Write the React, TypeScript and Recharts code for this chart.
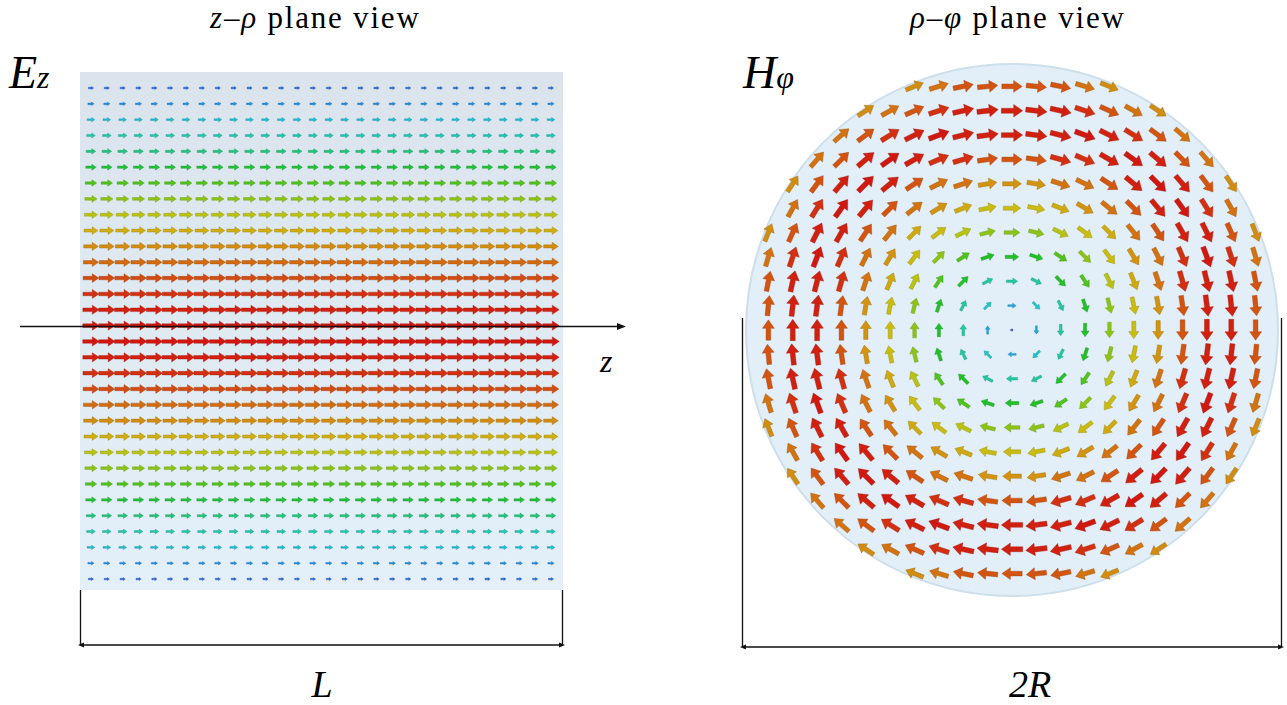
import React from 'react';
import { ScatterChart, Scatter, XAxis, YAxis } from 'recharts';

// ---------- data: z–ρ plane (E_z) ----------
const zColumns = [0, 1, 2, 3, 4, 5, 6, 7, 8, 9, 10, 11, 12, 13, 14, 15, 16, 17, 18, 19, 20, 21, 22, 23, 24, 25, 26, 27, 28, 29];
const rhoRows = [15.5, 14.5, 13.5, 12.5, 11.5, 10.5, 9.5, 8.5, 7.5, 6.5, 5.5, 4.5, 3.5, 2.5, 1.5, 0.5,
  -0.5, -1.5, -2.5, -3.5, -4.5, -5.5, -6.5, -7.5, -8.5, -9.5, -10.5, -11.5, -12.5, -13.5, -14.5, -15.5];
const ezRowMagnitude = [0.06, 0.15, 0.27, 0.35, 0.43, 0.5, 0.58, 0.65, 0.72, 0.79, 0.85, 0.9, 0.94, 0.97, 0.99, 1.0,
  1.0, 0.99, 0.97, 0.94, 0.9, 0.85, 0.79, 0.72, 0.65, 0.58, 0.5, 0.43, 0.35, 0.27, 0.15, 0.06];

// ---------- data: ρ–φ plane (H_φ) ----------
const gridSteps = [-10, -9, -8, -7, -6, -5, -4, -3, -2, -1, 0, 1, 2, 3, 4, 5, 6, 7, 8, 9, 10];
const ringRadius = [0, 0.5, 1, 1.5, 2, 2.5, 3, 3.5, 4, 4.5, 5, 5.5, 6, 6.5, 7, 7.5, 8, 8.5, 9, 9.5, 10, 10.5, 11];
const hphiRingMagnitude = [0, 0.1, 0.2, 0.3, 0.38, 0.45, 0.52, 0.58, 0.65, 0.72, 0.76, 0.8, 0.84, 0.89, 0.93, 0.97, 0.99, 1.0, 0.99, 0.97, 0.93, 0.89, 0.85];
const discRadius = 10.9;

type Vec = { x: number; y: number; u: number; v: number; mag: number };

const ezData: Vec[] = [];
rhoRows.forEach((rho, i) => {
  zColumns.forEach((z) => {
    ezData.push({ x: z, y: rho, u: 1, v: 0, mag: ezRowMagnitude[i] });
  });
});

const hData: Vec[] = [];
gridSteps.forEach((gy) => {
  gridSteps.forEach((gx) => {
    const r = Math.hypot(gx, gy);
    if (r >= discRadius) return;
    const idx = ringRadius.findIndex((rr) => Math.abs(rr - Math.round(r * 2) / 2) < 1e-9);
    const mag = hphiRingMagnitude[idx];
    const u = r > 0 ? gy / r : 1;
    const v = r > 0 ? -gx / r : 0;
    hData.push({ x: gx, y: gy, u, v, mag });
  });
});

// ---------- colour scale ----------
const colorStops: [number, string][] = [
  [0.0, '#2850c8'], [0.12, '#2a80e0'], [0.22, '#20b0e0'], [0.3, '#22c4c8'], [0.38, '#22c8a0'],
  [0.45, '#20c468'], [0.52, '#22c028'], [0.6, '#60c418'], [0.68, '#a4c414'], [0.75, '#c8c010'],
  [0.82, '#d2a010'], [0.88, '#d27a10'], [0.93, '#d25410'], [0.97, '#d23010'], [1.0, '#d01810'],
];
const hex = (h: string) => [parseInt(h.slice(1, 3), 16), parseInt(h.slice(3, 5), 16), parseInt(h.slice(5, 7), 16)];
function colorAt(m: number, k = 1): string {
  const t = Math.max(0, Math.min(1, m));
  let i = 0;
  while (i < colorStops.length - 2 && t > colorStops[i + 1][0]) i++;
  const [t0, c0] = colorStops[i];
  const [t1, c1] = colorStops[i + 1];
  const f = (t - t0) / (t1 - t0 || 1);
  const a = hex(c0), b = hex(c1);
  const c = a.map((av, j) => Math.round((av + (b[j] - av) * f) * k));
  return `rgb(${c[0]},${c[1]},${c[2]})`;
}

// ---------- arrow mark ----------
function ArrowMark(props: any) {
  const { cx, cy, payload, base, scale, thick } = props;
  if (cx == null || cy == null || !payload) return null;
  const mag = payload.mag as number;
  const L = mag < 0.05 ? 2.5 : base + scale * mag;
  const h = 0.42 * L;
  const hw = Math.max(1.2, thick * 0.28 * L);
  const sw = Math.max(0.8, thick * 0.11 * L);
  const x0 = -L / 2, x1 = L / 2;
  const d = `M${x0},${-sw}L${x1 - h},${-sw}L${x1 - h},${-hw}L${x1},0L${x1 - h},${hw}L${x1 - h},${sw}L${x0},${sw}Z`;
  const deg = (Math.atan2(-payload.v, payload.u) * 180) / Math.PI;
  return (
    <path
      d={d}
      transform={`translate(${cx},${cy}) rotate(${deg})`}
      fill={colorAt(mag)}
      stroke={colorAt(mag, 0.75)}
      strokeWidth={0.6}
      strokeOpacity={0.6}
    />
  );
}

const serif = '"Liberation Serif", "DejaVu Serif", serif';

export default function App() {
  return (
    <div style={{ position: 'absolute', left: 0, top: 0, width: 1287, height: 705, background: '#fff', overflow: 'hidden' }}>
      {/* left panel background */}
      <div style={{ position: 'absolute', left: 80, top: 72, width: 483, height: 518, background: 'linear-gradient(#dbe4ed, #e4f0f9)' }} />
      <div style={{ position: 'absolute', left: 80, top: 72 }}>
        <ScatterChart width={483} height={518} margin={{ top: 0, right: 0, bottom: 0, left: 0 }}>
          <XAxis type="number" dataKey="x" domain={[-0.6935, 29.757]} hide allowDataOverflow />
          <YAxis type="number" dataKey="y" domain={[-16.19, 16.51]} hide allowDataOverflow />
          <Scatter data={ezData} isAnimationActive={false} shape={(p: any) => <ArrowMark {...p} base={4.5} scale={12} thick={1} />} />
        </ScatterChart>
      </div>

      {/* right panel disc */}
      <div style={{ position: 'absolute', left: 745, top: 63, width: 534, height: 534, boxSizing: 'border-box', borderRadius: '50%', background: '#e2eef8', border: '2px solid #cddfeb' }} />
      <div style={{ position: 'absolute', left: 745, top: 63 }}>
        <ScatterChart width={534} height={534} margin={{ top: 0, right: 0, bottom: 0, left: 0 }}>
          <XAxis type="number" dataKey="x" domain={[-10.96, 10.96]} hide allowDataOverflow />
          <YAxis type="number" dataKey="y" domain={[-10.96, 10.96]} hide allowDataOverflow />
          <Scatter data={hData} isAnimationActive={false} shape={(p: any) => <ArrowMark {...p} base={5} scale={16.5} thick={1.05} />} />
        </ScatterChart>
      </div>

      {/* annotations */}
      <svg width={1287} height={705} style={{ position: 'absolute', left: 0, top: 0, pointerEvents: 'none' }}>
        <g stroke="#111" strokeWidth={1.3} fill="none">
          <path d="M20,326.5H620" />
          <path d="M80.5,590V645M562.5,590V645M82,645H561" />
          <path d="M742.5,318V647M1281.5,318V647M744,647H1280" />
        </g>
        <g fill="#111">
          <polygon points="626,326.5 617,323 617,330" />
          <polygon points="78,645 84,642.5 84,647.5" />
          <polygon points="565,645 559,642.5 559,647.5" />
          <polygon points="740,647 746,644.5 746,649.5" />
          <polygon points="1284,647 1278,644.5 1278,649.5" />
        </g>
        <g fontFamily={serif} fill="#000">
          <text x={210} y={28} fontSize={31} letterSpacing={1.8}>
            <tspan fontStyle="italic">z</tspan>–<tspan fontStyle="italic">ρ</tspan> plane view
          </text>
          <text x={910} y={28} fontSize={31} letterSpacing={1.8}>
            <tspan fontStyle="italic">ρ</tspan>–<tspan fontStyle="italic">φ</tspan> plane view
          </text>
          <text x={9} y={88} fontStyle="italic">
            <tspan fontSize={46}>E</tspan><tspan fontSize={32}>z</tspan>
          </text>
          <text x={743} y={88} fontStyle="italic">
            <tspan fontSize={46}>H</tspan><tspan fontSize={32}>φ</tspan>
          </text>
          <text x={600} y={372} fontSize={32} fontStyle="italic">z</text>
          <text x={322} y={697} fontSize={38} fontStyle="italic" textAnchor="middle">L</text>
          <text x={1030} y={697} fontSize={38} fontStyle="italic" textAnchor="middle">2R</text>
        </g>
      </svg>
    </div>
  );
}
